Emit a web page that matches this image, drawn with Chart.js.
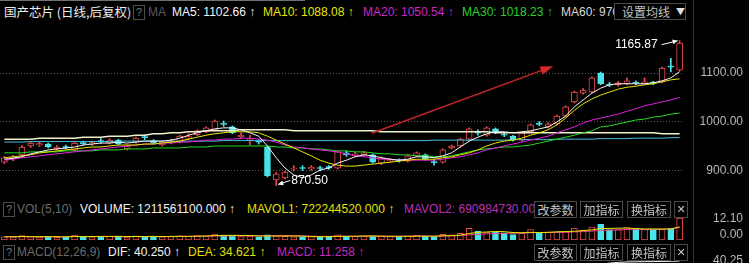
<!DOCTYPE html>
<html>
<head>
<meta charset="utf-8">
<title>国产芯片 日线</title>
<script src="https://cdn.jsdelivr.net/npm/chart.js@4.4.1/dist/chart.umd.min.js"></script>
<style>
  html, body { margin: 0; padding: 0; background: #000; }
  body { width: 749px; height: 263px; overflow: hidden; position: relative;
         font-family: "Liberation Sans", Arial, sans-serif; font-size: 12px; }
  .t { position: absolute; white-space: nowrap; line-height: 14px; }
  .cjk { font-family: "Noto Sans CJK SC", sans-serif; }
  .q { position: absolute; width: 10px; height: 13px; border: 1px solid #4c4c4c; color: #7a7a7a;
       font-size: 11px; line-height: 13px; text-align: center; }
  .btn { position: absolute; height: 15px; border: 1px solid #4a4a4a; background: #000; color: #c4c4c4;
         font-family: "Noto Sans CJK SC", sans-serif; font-size: 12px; line-height: 15px; text-align: center;
         z-index: 2; white-space: nowrap; }
  canvas { position: absolute; left: 0; z-index: 1; }
  .vline { position: absolute; left: 693px; top: 0; width: 1px; height: 263px; background: #343434; }
  .topline { position: absolute; left: 0; top: 0; width: 305px; height: 1px; background: #707070; }
</style>
</head>
<body>
<div class="topline"></div>
<div class="vline"></div>

<div class="t cjk" style="left:4px;top:5px;color:#ececec;font-size:12.5px">国产芯片 (日线,后复权)</div>
<div class="q" style="left:133px;top:5px">?</div>
<div class="t" style="left:148px;top:5px;color:#5c5c5c">MA</div>
<div class="t" style="left:172px;top:5px;color:#f4f4f4">MA5: 1102.66 ↑</div>
<div class="t" style="left:263px;top:5px;color:#e6e600">MA10: 1088.08 ↑</div>
<div class="t" style="left:363px;top:5px;color:#c828c8">MA20: 1050.54 ↑</div>
<div class="t" style="left:462px;top:5px;color:#28d028">MA30: 1018.23 ↑</div>
<div class="t" style="left:561px;top:5px;width:53px;overflow:hidden;color:#d8d8d8">MA60: 976</div>
<div class="btn" style="left:614px;top:3px;width:70px;text-align:left"><span style="padding-left:7px">设置均线</span><span style="position:absolute;left:61px;top:0;font-size:9px;color:#e0e0e0">▼</span></div>

<div class="q" style="left:3px;top:202px">?</div>
<div class="t" style="left:17px;top:202px;color:#6c6c6c">VOL(5,10)</div>
<div class="t" style="left:80px;top:202px;color:#f4f4f4">VOLUME: 1211561100.000 ↑</div>
<div class="t" style="left:247px;top:202px;color:#e0e000">MAVOL1: 722244520.000 ↑</div>
<div class="t" style="left:404px;top:202px;color:#b830b8">MAVOL2: 690984730.000 ↑</div>
<div class="btn" style="left:534px;top:201px;width:41px">改参数</div>
<div class="btn" style="left:580px;top:201px;width:41px">加指标</div>
<div class="btn" style="left:627px;top:201px;width:42px">换指标</div>
<div class="btn" style="left:674px;top:201px;width:12px;font-family:'DejaVu Sans';font-size:11px">✕</div>

<div class="q" style="left:3px;top:245px">?</div>
<div class="t" style="left:17px;top:245px;color:#6c6c6c">MACD(12,26,9)</div>
<div class="t" style="left:108px;top:245px;color:#f4f4f4">DIF: 40.250 ↑</div>
<div class="t" style="left:188px;top:245px;color:#e0e000">DEA: 34.621 ↑</div>
<div class="t" style="left:277px;top:245px;color:#c028c0">MACD: 11.258 ↑</div>
<div class="btn" style="left:534px;top:244px;width:41px">改参数</div>
<div class="btn" style="left:580px;top:244px;width:41px">加指标</div>
<div class="btn" style="left:627px;top:244px;width:42px">换指标</div>
<div class="btn" style="left:674px;top:244px;width:12px;font-family:'DejaVu Sans';font-size:11px">✕</div>

<canvas id="main" width="749" height="175" style="top:22px"></canvas>
<canvas id="vol" width="749" height="30" style="top:210px"></canvas>
<canvas id="macd" width="749" height="60" style="top:248px"></canvas>

<script>
'use strict'
// daily candles, left to right
let opens = [918, 925, 933, 951, 953, 955, 945, 950, 943, 958,
    955, 962, 957, 963, 945, 959, 970, 962, 953, 958,
    959, 967, 974, 980, 984, 997, 990, 970, 962, 961,
    949, 882, 886, 904, 907, 904, 907, 909, 906, 937,
    931, 933, 933, 916, 921, 923, 920, 931, 933, 919,
    918, 947, 951, 965, 979, 973, 986, 974, 971, 963,
    980, 997, 990, 996, 1012, 1041, 1059, 1061, 1100, 1077,
    1076, 1078, 1081, 1078, 1081, 1082, 1114, 1106];
let highs = [930, 932, 952, 960, 959, 957, 952, 953, 959, 961,
    961, 966, 966, 965, 953, 969, 974, 964, 961, 965,
    973, 976, 984, 990, 1004, 1002, 992, 978, 973, 964,
    951, 897, 900, 911, 911, 911, 910, 911, 941, 941,
    938, 940, 935, 929, 926, 925, 933, 939, 935, 924,
    945, 953, 967, 988, 984, 990, 988, 978, 973, 980,
    996, 1001, 999, 1014, 1033, 1063, 1068, 1092, 1102, 1081,
    1083, 1090, 1084, 1090, 1083, 1112, 1130, 1165.87];
let lows = [915, 921, 930, 948, 950, 947, 943, 945, 941, 953,
    952, 957, 955, 953, 943, 957, 964, 955, 951, 955,
    957, 964, 972, 978, 982, 991, 976, 966, 953, 955,
    888, 870.5, 884, 900, 901, 901, 900, 903, 904, 930,
    929, 931, 916, 913, 918, 918, 918, 929, 922, 912,
    916, 945, 949, 963, 973, 971, 976, 970, 961, 961,
    978, 992, 988, 994, 1010, 1039, 1057, 1059, 1076, 1072,
    1073, 1076, 1076, 1076, 1076, 1080, 1102, 1104];
let closes = [927, 928, 949, 957, 956, 949, 949, 947, 957, 956,
    958, 960, 963, 955, 951, 967, 968, 957, 959, 962,
    971, 970, 982, 988, 1002, 995, 978, 973, 965, 959,
    890, 894, 898, 906, 905, 908, 905, 906, 939, 933,
    935, 937, 918, 927, 923, 921, 931, 937, 924, 917,
    943, 951, 965, 986, 977, 988, 978, 973, 963, 978,
    994, 995, 996, 1012, 1031, 1061, 1065, 1090, 1078, 1075,
    1080, 1084, 1079, 1082, 1079, 1110, 1112, 1161];

// moving averages as drawn on the chart
let ma5 = [924, 926, 929, 935, 939, 943, 945, 947, 949, 953,
    955, 957, 957, 959, 957, 959, 961, 961, 961, 963,
    967, 973, 978, 982, 986, 988, 988, 984, 978, 971,
    951, 927, 906, 892, 886, 892, 902, 906, 916, 922,
    929, 933, 931, 927, 924, 922, 924, 929, 929, 927,
    931, 937, 949, 961, 969, 976, 980, 980, 978, 980,
    982, 986, 990, 1000, 1012, 1031, 1045, 1059, 1069, 1076,
    1078, 1078, 1078, 1078, 1080, 1084, 1090, 1102.66];
let ma10 = [927, 929, 931, 933, 937, 939, 941, 943, 945, 947,
    949, 949, 951, 953, 953, 953, 955, 955, 957, 959,
    961, 965, 969, 973, 976, 978, 980, 980, 980, 978,
    971, 963, 955, 947, 939, 931, 922, 916, 912, 910,
    910, 912, 914, 916, 918, 920, 922, 924, 924, 924,
    927, 929, 933, 937, 943, 951, 957, 961, 963, 967,
    973, 978, 984, 994, 1008, 1024, 1037, 1047, 1055, 1061,
    1067, 1071, 1073, 1076, 1078, 1082, 1086, 1088.08];
let ma20 = [922, 924, 927, 929, 931, 933, 935, 937, 939, 941,
    943, 945, 947, 949, 951, 953, 955, 955, 957, 957,
    959, 959, 961, 963, 963, 965, 965, 967, 967, 965,
    963, 959, 953, 949, 947, 945, 943, 941, 939, 935,
    931, 929, 927, 924, 924, 922, 922, 922, 922, 922,
    924, 927, 929, 933, 937, 943, 947, 951, 955, 959,
    963, 967, 971, 978, 984, 990, 998, 1004, 1008, 1012,
    1016, 1022, 1027, 1033, 1037, 1041, 1045, 1050.54];
let ma30 = [937, 937, 937, 939, 939, 939, 939, 941, 941, 941,
    941, 943, 943, 943, 945, 945, 945, 947, 947, 947,
    947, 949, 949, 949, 951, 951, 951, 951, 951, 951,
    951, 949, 949, 947, 947, 945, 945, 943, 941, 941,
    939, 939, 937, 935, 935, 933, 933, 931, 931, 929,
    929, 931, 935, 939, 943, 945, 947, 949, 949, 951,
    953, 957, 961, 965, 969, 973, 978, 982, 990, 992,
    996, 1000, 1004, 1006, 1010, 1012, 1016, 1018.23];
let ma60 = [965, 965, 965, 965, 967, 967, 967, 967, 967, 969,
    969, 969, 971, 971, 971, 973, 973, 976, 976, 978,
    978, 980, 980, 982, 982, 982, 982, 984, 984, 984,
    984, 984, 984, 982, 982, 982, 982, 982, 982, 982,
    982, 982, 982, 980, 980, 980, 980, 980, 980, 980,
    980, 980, 980, 980, 980, 980, 978, 978, 978, 978,
    978, 978, 978, 978, 978, 978, 978, 978, 978, 978,
    978, 978, 978, 978, 978, 976, 976, 976.1];
let ma120 = [959, 959, 959, 960, 960, 960, 960, 960, 960, 960,
    960, 960, 960, 961, 961, 961, 961, 961, 961, 961,
    961, 961, 961, 961, 961, 962, 962, 962, 962, 962,
    962, 962, 962, 962, 962, 962, 962, 962, 962, 962,
    962, 962, 962, 962, 962, 962, 962, 962, 962, 963,
    963, 963, 963, 963, 963, 963, 963, 963, 964, 964,
    964, 964, 964, 965, 965, 965, 965, 965, 966, 966,
    966, 966, 967, 967, 967, 967, 968, 968];

// volume in 亿股 (1e8 shares)
let volumes = [1.7, 1.6, 2.4, 1.9, 1.6, 1.8, 1.5, 1.7, 2.7, 1.9,
    1.7, 1.8, 2.0, 2.1, 1.6, 2.3, 1.9, 2.0, 1.7, 1.9,
    2.3, 2.0, 2.5, 2.1, 3.3, 2.7, 2.5, 1.9, 2.1, 1.8,
    2.9, 2.3, 2.0, 1.8, 1.7, 1.9, 1.7, 1.8, 2.9, 2.1,
    2.0, 2.3, 2.1, 2.3, 1.9, 1.7, 2.2, 2.6, 2.1, 1.9,
    3.1, 2.9, 3.7, 6.4, 4.8, 4.3, 4.5, 3.9, 3.0, 3.7,
    5.8, 3.9, 4.4, 4.5, 4.7, 6.6, 5.3, 7.1, 8.6, 5.8,
    5.8, 6.8, 6.2, 5.8, 6.0, 5.9, 6.3, 12.115611];
let mavol1 = [1.8, 1.8, 1.9, 1.9, 1.8, 1.9, 1.8, 1.7, 1.9, 1.9,
    1.9, 2.0, 2.0, 2.0, 1.9, 1.9, 1.9, 2.0, 1.9, 2.0,
    2.0, 2.0, 2.1, 2.2, 2.4, 2.5, 2.6, 2.5, 2.5, 2.2,
    2.2, 2.2, 2.2, 2.2, 2.1, 1.9, 1.8, 1.8, 2.0, 2.0,
    2.1, 2.2, 2.3, 2.1, 2.1, 2.1, 2.0, 2.1, 2.1, 2.1,
    2.3, 2.4, 2.7, 3.6, 4.2, 4.4, 4.7, 4.6, 4.1, 4.0,
    4.2, 4.1, 4.2, 4.5, 4.7, 4.8, 5.2, 5.6, 6.3, 6.4,
    6.5, 6.6, 6.3, 6.1, 6.1, 6.0, 6.1, 7.22];
let mavol2 = [1.8, 1.8, 1.8, 1.8, 1.8, 1.8, 1.8, 1.8, 1.9, 1.9,
    1.9, 1.9, 1.9, 1.9, 1.9, 1.9, 1.9, 1.9, 1.9, 1.9,
    2.0, 2.0, 2.1, 2.1, 2.2, 2.2, 2.3, 2.3, 2.3, 2.3,
    2.3, 2.3, 2.4, 2.4, 2.3, 2.1, 2.0, 2.0, 2.1, 2.1,
    2.0, 2.0, 2.0, 2.0, 2.0, 2.0, 2.1, 2.2, 2.2, 2.1,
    2.2, 2.3, 2.4, 2.8, 3.1, 3.4, 3.6, 3.7, 3.7, 3.8,
    4.0, 4.1, 4.2, 4.2, 4.2, 4.5, 4.6, 4.9, 5.3, 5.4,
    5.5, 5.8, 5.9, 5.8, 5.8, 6.0, 6.2, 6.91];

// MACD panel: only its very top is on screen
let dif = Array(66).fill(null).concat([30, 33, 36, 37.5, 38.5, 39, 39.2, 39.4, 39.5, 39.7, 39.9, 40.25]);

let priceTicks = [900, 1000, 1100];
let volTicks = [0, 12.1];
let macdTicks = [40.25];

let highMark = { index: 77, value: 1165.87, text: '1165.87' };
let lowMark = { index: 31, value: 870.5, text: '870.50' };
let trendLine = { from: [41.9, 977], to: [62.6, 1114] };

let days = closes.map(function (c, i) { return 'D' + (i + 1); });

let upColor = '#f04a4a';
let downColor = '#48e4ea';
let isUp = closes.map(function (c, i) { return c >= opens[i]; });

Chart.defaults.font.family = 'Liberation Sans';
Chart.defaults.font.size = 12;

// right axis: labels end at x=743, plot area ends at x=684
function fitAxis(scale) {
    scale.width = 59;
    scale.paddingTop = 0;
    scale.paddingBottom = 0;
}

function maLine(data, color, width) {
    return {
        type: 'line', data: data, borderColor: color, borderWidth: width || 1,
        pointRadius: 0, tension: 0, order: 0
    };
}

function axisTicks() {
    return {
        color: '#b8b8b8', padding: 0, crossAlign: 'far', autoSkip: false,
        callback: function (v) { return v.toFixed(2); }
    };
}

function arrowHead(ctx, x1, y1, x2, y2, len, half) {
    let a = Math.atan2(y2 - y1, x2 - x1);
    ctx.beginPath();
    ctx.moveTo(x2, y2);
    ctx.lineTo(x2 - len * Math.cos(a) + half * Math.sin(a), y2 - len * Math.sin(a) - half * Math.cos(a));
    ctx.lineTo(x2 - len * Math.cos(a) - half * Math.sin(a), y2 - len * Math.sin(a) + half * Math.cos(a));
    ctx.closePath();
    ctx.fill();
}

let markPlugin = {
    id: 'marks',
    afterDatasetsDraw: function (chart) {
        let ctx = chart.ctx;
        let xs = chart.scales.x;
        let ys = chart.scales.y;
        ctx.save();
        // hand drawn trend arrow
        let x1 = xs.getPixelForValue(trendLine.from[0]);
        let y1 = ys.getPixelForValue(trendLine.from[1]);
        let x2 = xs.getPixelForValue(trendLine.to[0]);
        let y2 = ys.getPixelForValue(trendLine.to[1]);
        let a = Math.atan2(y2 - y1, x2 - x1);
        ctx.strokeStyle = '#c42626';
        ctx.fillStyle = '#d82a2a';
        ctx.lineWidth = 1.5;
        ctx.beginPath();
        ctx.moveTo(x1, y1);
        ctx.lineTo(x2 - 8 * Math.cos(a), y2 - 8 * Math.sin(a));
        ctx.stroke();
        arrowHead(ctx, x1, y1, x2, y2, 13, 4.5);

        // max / min labels
        ctx.strokeStyle = '#ffffff';
        ctx.fillStyle = '#ffffff';
        ctx.lineWidth = 1;
        ctx.font = '12px "Liberation Sans"';
        ctx.textBaseline = 'middle';

        let hx = xs.getPixelForValue(highMark.index) - 2;
        let hy = ys.getPixelForValue(highMark.value);
        ctx.beginPath();
        ctx.moveTo(hx - 16, hy + 4);
        ctx.lineTo(hx, hy);
        ctx.stroke();
        arrowHead(ctx, hx - 16, hy + 4, hx, hy, 5, 2.5);
        ctx.textAlign = 'right';
        ctx.fillText(highMark.text, hx - 20, hy + 4);

        let lx = xs.getPixelForValue(lowMark.index) + 2;
        let ly = ys.getPixelForValue(lowMark.value) - 1;
        ctx.beginPath();
        ctx.moveTo(lx + 12, ly - 4);
        ctx.lineTo(lx, ly);
        ctx.stroke();
        arrowHead(ctx, lx + 12, ly - 4, lx, ly, 5, 2.5);
        ctx.textAlign = 'left';
        ctx.fillText(lowMark.text, lx + 13, ly - 4);
        ctx.restore();
    }
};

let baseOptions = {
    responsive: false,
    animation: false,
    devicePixelRatio: 1,
    events: [],
    plugins: { legend: { display: false }, tooltip: { enabled: false } }
};

// Main price panel
new Chart(document.getElementById('main'), {
    type: 'bar',
    data: {
        labels: days,
        datasets: [
            maLine(ma5, '#f4f4f4'),
            maLine(ma10, '#e6e600'),
            maLine(ma20, '#e020e0'),
            maLine(ma30, '#22dd22'),
            maLine(ma60, '#f2f0cc', 1.5),
            maLine(ma120, '#46bfe4'),
            {
                data: opens.map(function (o, i) { return [o, closes[i]]; }),
                backgroundColor: isUp.map(function (u) { return u ? '#000000' : downColor; }),
                borderColor: isUp.map(function (u) { return u ? upColor : downColor; }),
                borderWidth: 1, borderSkipped: false, barThickness: 6,
                minBarLength: 1, grouped: false, order: 5
            },
            {
                data: lows.map(function (l, i) { return [l, highs[i]]; }),
                backgroundColor: isUp.map(function (u) { return u ? upColor : downColor; }),
                barThickness: 1, grouped: false, order: 6
            }
        ]
    },
    options: Object.assign({}, baseOptions, {
        layout: { padding: { right: 6 }, autoPadding: false },
        scales: {
            x: { display: false, offset: true },
            y: {
                position: 'right', min: 846.9, max: 1204.1,
                afterBuildTicks: function (s) { s.ticks = priceTicks.map(function (v) { return { value: v }; }); },
                afterFit: fitAxis,
                grid: { color: '#5a5a5a', drawTicks: false },
                border: { display: false, dash: [1, 2] },
                ticks: axisTicks()
            }
        }
    }),
    plugins: [markPlugin]
});

// Volume panel
new Chart(document.getElementById('vol'), {
    type: 'bar',
    data: {
        labels: days,
        datasets: [
            maLine(mavol1, '#e6e600'),
            maLine(mavol2, '#f04090'),
            {
                data: volumes,
                backgroundColor: isUp.map(function (u) { return u ? '#000000' : downColor; }),
                borderColor: isUp.map(function (u) { return u ? upColor : downColor; }),
                borderWidth: 1, borderSkipped: false, barThickness: 6, order: 5
            }
        ]
    },
    options: Object.assign({}, baseOptions, {
        layout: { padding: { top: 8, right: 6 }, autoPadding: false },
        scales: {
            x: { display: false, offset: true },
            y: { display: false, min: 0, max: 12.12 },
            yl: {
                position: 'right', min: -3.78, max: 12.86,
                afterBuildTicks: function (s) { s.ticks = volTicks.map(function (v) { return { value: v }; }); },
                afterFit: fitAxis,
                grid: { display: false, drawTicks: false },
                border: { display: false },
                ticks: axisTicks()
            }
        }
    })
});

// MACD panel (cut off by the bottom edge)
new Chart(document.getElementById('macd'), {
    type: 'line',
    data: {
        labels: days,
        datasets: [maLine(dif, '#f4f4f4')]
    },
    options: Object.assign({}, baseOptions, {
        layout: { padding: { top: 13, right: 6 }, autoPadding: false },
        scales: {
            x: { display: false, offset: true },
            y: {
                position: 'right', min: -20, max: 40.25,
                afterBuildTicks: function (s) { s.ticks = macdTicks.map(function (v) { return { value: v }; }); },
                afterFit: fitAxis,
                grid: { display: false, drawTicks: false },
                border: { display: false },
                ticks: axisTicks()
            }
        }
    })
});
</script>
</body>
</html>
